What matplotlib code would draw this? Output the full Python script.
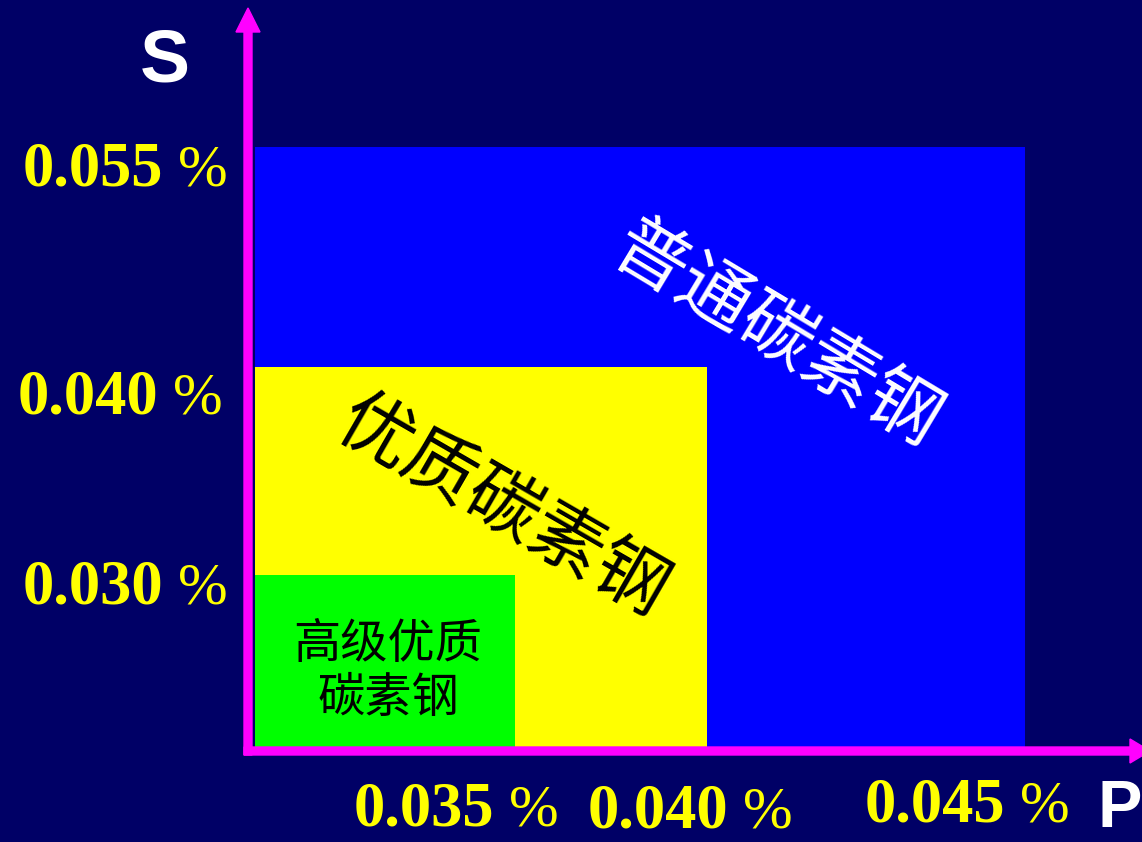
import numpy as np
import matplotlib
matplotlib.use("Agg")
import matplotlib.pyplot as plt
from matplotlib.patches import FancyArrow
from matplotlib.transforms import IdentityTransform

plt.rcParams["font.family"] = ["Noto Sans CJK SC", "DejaVu Sans"]

# steel grades: P and S upper limits (%)
grades = ["普通碳素钢", "优质碳素钢", "高级优质\n碳素钢"]
p_max = [0.045, 0.040, 0.035]
s_max = [0.055, 0.040, 0.030]
colors = ["#0000ff", "#ffff00", "#00ff00"]
text_colors = ["white", "black", "black"]

x_ticks = ["0.035", "0.040", "0.045"]
y_ticks = ["0.055", "0.040", "0.030"]

W, H = 1142, 842
BG = "#000066"
MAG = "#ff00ff"

# the slide is not to scale, so map values through a piecewise scale
xp = [0, 0.035, 0.040, 0.045, 0.050]
xs = [0, 260, 452, 770, 887]
yp = [0, 0.030, 0.040, 0.055, 0.065]
ys = [0, 172, 380, 600, 747]


def fwd_x(v):
    return np.interp(v, xp, xs)


def inv_x(v):
    return np.interp(v, xs, xp)


def fwd_y(v):
    return np.interp(v, yp, ys)


def inv_y(v):
    return np.interp(v, ys, yp)


fig = plt.figure(figsize=(W / 100, H / 100), dpi=100, facecolor=BG)
ax = fig.add_axes([255 / W, (H - 747) / H, 887 / W, 747 / H])
ax.set_facecolor(BG)
ax.set_xscale("function", functions=(fwd_x, inv_x))
ax.set_yscale("function", functions=(fwd_y, inv_y))
ax.set_xlim(0, 0.050)
ax.set_ylim(0, 0.065)
ax.axis("off")

for p, s, c in zip(p_max, s_max, colors):
    ax.bar(0, s, width=p, align="edge", color=c, linewidth=0)

# axis arrows (figure pixels)
tr = IdentityTransform()
fig.add_artist(FancyArrow(248, H - 755, 0, 747, width=8, head_width=24,
                          head_length=24, length_includes_head=True,
                          color=MAG, transform=tr))
fig.add_artist(FancyArrow(244, H - 751, 906, 0, width=8, head_width=24,
                          head_length=20, length_includes_head=True,
                          color=MAG, transform=tr))

fig.text(165 / W, 1 - 82 / H, "S", color="white", fontsize=54,
         fontweight="bold", family="Liberation Sans", ha="center", va="baseline")
fig.text(1097 / W, 1 - 841 / H, "P", color="white", fontsize=48,
         fontweight="bold", family="Liberation Sans", ha="left", va="bottom")


def pct_label(num, x, y):
    # x: right end of the number, y: baseline (pixels from top)
    fig.text(x / W, 1 - y / H, num, color="#ffff00", fontsize=45,
             fontweight="bold", family="Liberation Serif", ha="right", va="baseline")
    fig.text((x + 15) / W, 1 - y / H, "%", color="#ffff00", fontsize=43,
             family="Liberation Serif", ha="left", va="baseline")


for lab, (x, y) in zip(y_ticks, [(163, 185), (158, 413), (163, 603)]):
    pct_label(lab, x, y)
for lab, (x, y) in zip(x_ticks, [(494, 826), (728, 828), (1005, 822)]):
    pct_label(lab, x, y)

# region names
fig.text(776 / W, 1 - 336 / H, grades[0], color=text_colors[0], fontsize=53,
         rotation=-31, rotation_mode="anchor", ha="center", va="center")
fig.text(502 / W, 1 - 508 / H, grades[1], color=text_colors[1], fontsize=53,
         rotation=-30, rotation_mode="anchor", ha="center", va="center")
fig.text(388 / W, 1 - 672 / H, grades[2], color=text_colors[2], fontsize=34,
         ha="center", va="center", linespacing=1.15, multialignment="center")

fig.savefig("out.png", dpi=100, facecolor=BG)
